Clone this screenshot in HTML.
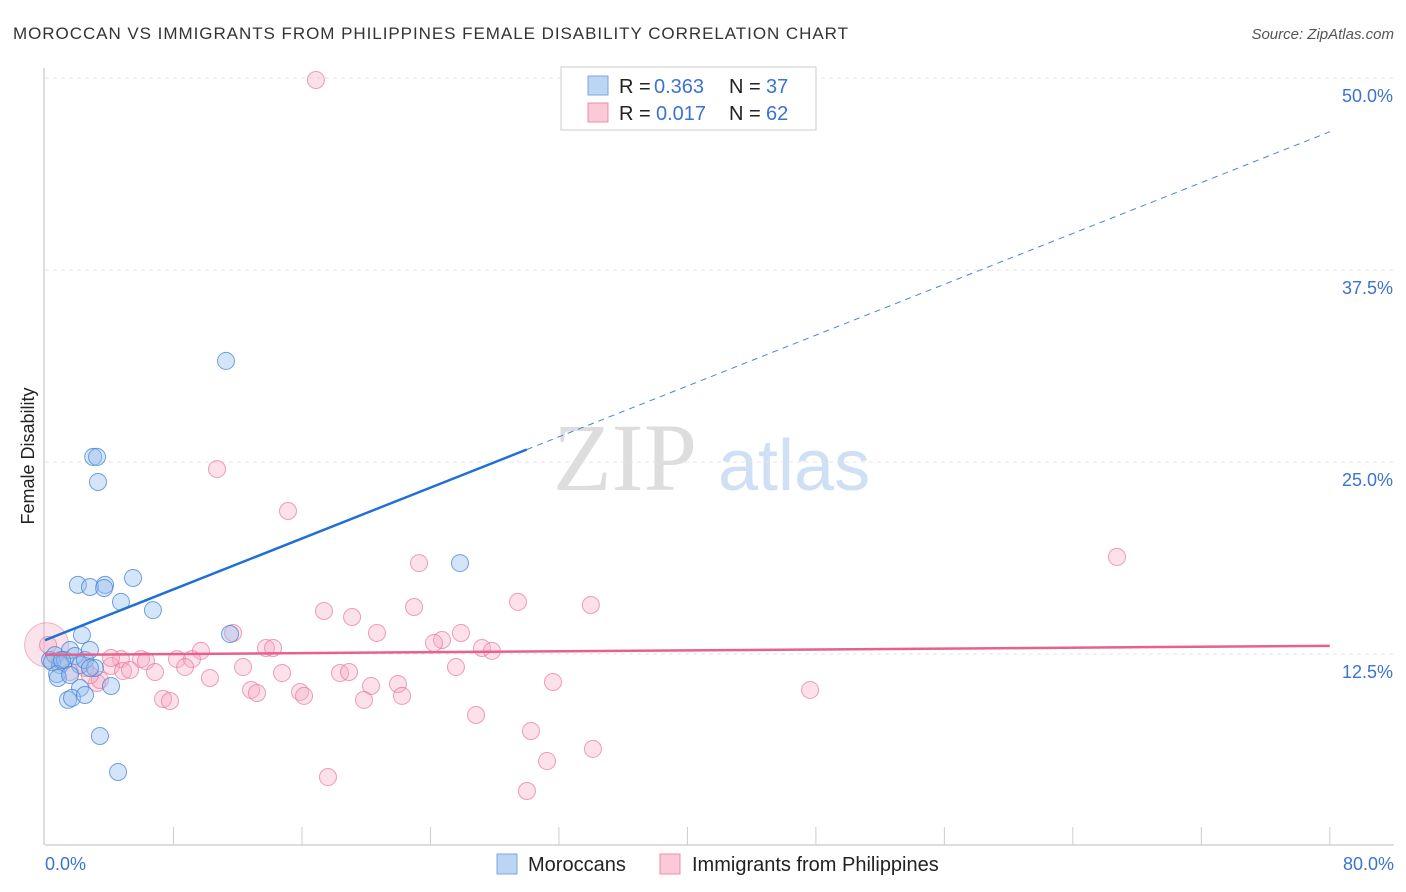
<!DOCTYPE html>
<html><head><meta charset="utf-8"><style>
body{margin:0;background:#fff;font-family:"Liberation Sans",sans-serif}
svg{display:block}
</style></head><body>
<svg id="c" width="1406" height="892" xmlns="http://www.w3.org/2000/svg">
<text x="13" y="39" font-size="17" textLength="835" fill="#333">MOROCCAN VS IMMIGRANTS FROM PHILIPPINES FEMALE DISABILITY CORRELATION CHART</text>
<text x="1394" y="39" font-size="15" fill="#555" font-style="italic" text-anchor="end">Source: ZipAtlas.com</text>
<text x="34" y="456" font-size="18" fill="#222" text-anchor="middle" transform="rotate(-90 34 456)">Female Disability</text>
<text x="553" y="490" font-size="96" fill="#ddd" font-family="Liberation Serif,serif">ZIP</text>
<text x="718" y="490" font-size="72" fill="#cfe0f4">atlas</text>
<g id="grid"></g><g id="pts"></g><g id="lines"></g>
<g>
<rect x="561" y="67" width="255" height="63" fill="#fff" stroke="#ccc"/>
<rect x="588" y="76" width="20" height="19" fill="#bcd5f5" stroke="#7aa6de"/>
<rect x="588" y="103" width="20" height="19" fill="#fcc9d8" stroke="#e88fac"/>
<text y="93" font-size="20" fill="#222"><tspan x="619">R =</tspan><tspan x="654" fill="#3b73d1">0.363</tspan><tspan x="729">N =</tspan><tspan x="766" fill="#3b73d1">37</tspan></text>
<text y="120" font-size="20" fill="#222"><tspan x="619">R =</tspan><tspan x="656" fill="#3b73d1">0.017</tspan><tspan x="729">N =</tspan><tspan x="766" fill="#3b73d1">62</tspan></text>
</g>
<g>
<rect x="497" y="854" width="20" height="20" fill="#bcd5f5" stroke="#7aa6de"/>
<text x="528" y="871" font-size="20" fill="#222">Moroccans</text>
<rect x="660" y="854" width="20" height="20" fill="#fcc9d8" stroke="#e88fac"/>
<text x="692" y="871" font-size="20" fill="#222">Immigrants from Philippines</text>
</g>
</svg>
<script>
const yTicks=[12.5,25,37.5,50];
const yTickLabels=["12.5%","25.0%","37.5%","50.0%"];
const xTickLabels=["0.0%","80.0%"];
const blueX=[0.31,0.62,0.93,0.44,0.75,1.25,1.56,1.87,2.18,2.49,2.8,3.11,1.06,0.81,2.3,2.05,2.8,3.74,3.68,5.48,4.73,6.72,2.18,1.43,1.68,2.49,4.11,3.0,3.24,3.3,11.27,11.52,25.84,3.42,4.55,2.8,1.56];
const blueY=[12.11,12.43,11.78,11.98,11.2,12.11,12.76,12.37,11.78,12.11,12.76,11.59,12.11,10.94,13.74,17.0,16.86,17.0,16.8,17.45,15.89,15.36,10.29,9.51,9.64,9.83,10.42,25.33,25.33,23.7,31.58,13.8,18.42,7.16,4.82,11.59,11.13];
const pinkX=[16.87,10.71,15.13,23.29,66.75,29.45,33.99,22.98,17.37,19.12,25.9,20.67,11.71,24.72,24.22,27.21,27.83,13.76,14.2,9.71,8.22,9.15,5.98,4.73,6.29,4.11,4.86,6.85,8.72,12.33,14.76,18.37,18.93,25.59,20.3,21.98,10.27,31.63,12.83,13.2,15.88,16.13,19.86,22.23,7.35,7.78,47.64,26.84,30.26,34.12,31.26,17.62,30.01,3.24,1.56,2.49,0.93,0.19,3.42,5.29,4.11,2.8];
const pinkY=[49.87,24.54,21.81,18.42,18.82,15.89,15.69,15.56,15.3,14.91,13.87,13.87,13.87,13.41,13.22,12.89,12.7,12.89,12.89,12.7,12.17,12.17,12.17,12.17,12.04,11.72,11.39,11.33,11.65,11.65,11.26,11.26,11.33,11.65,10.42,10.55,10.94,10.68,10.16,9.96,10.03,9.77,9.51,9.77,9.57,9.44,10.16,8.53,7.49,6.32,5.53,4.49,3.58,10.61,11.33,11.59,12.11,13.09,10.81,11.46,12.24,11.13];
const blueLine=[13.4,46.5];
const pinkLine=[12.44,13.03];
const X=v=>45+v*16.06, Y=v=>846-v*15.36;
const NS="http://www.w3.org/2000/svg";
function mk(p,t,a){const e=document.createElementNS(NS,t);for(const k in a)e.setAttribute(k,a[k]);p.appendChild(e);return e;}
const g=document.getElementById('grid');
yTicks.forEach((v,i)=>{
 const l=mk(g,'line',{x1:45,x2:1394,y1:Y(v),y2:Y(v),stroke:'#e4e4e4','stroke-dasharray':'4,4'});
 
 
 const t=mk(g,'text',{x:1393,y:Y(v)+24,'font-size':18,fill:'#3b73d1','text-anchor':'end'});t.textContent=yTickLabels[i];
 
 
});
const ax=mk(g,'line',{x1:45,x2:1394,y1:845,y2:845,stroke:'#bbb'});


const ay=mk(g,'line',{x1:44,x2:44,y1:68,y2:845,stroke:'#bbb'});


for(let i=1;i<=10;i++){const tk=mk(g,'line',{x1:X(i*8),x2:X(i*8),y1:827,y2:845,stroke:'#ccc'});
 
 }
[[0,'start',45],[1,'end',1394]].forEach(([i,a,x])=>{const t=mk(g,'text',{x:x,y:870,'font-size':18,fill:'#3b73d1','text-anchor':a});t.textContent=xTickLabels[i];
 
 });
const p=document.getElementById('pts');
const big=mk(p,'circle',{cx:X(0.1),cy:Y(13.1),r:22,fill:'rgba(246,160,185,0.3)',stroke:'rgba(230,120,155,0.5)'});


pinkX.forEach((x,i)=>{const c=mk(p,'circle',{cx:X(x),cy:Y(pinkY[i]),r:8.5,fill:'rgba(246,170,195,0.35)',stroke:'rgba(230,120,155,0.7)'});
 
 });
blueX.forEach((x,i)=>{const c=mk(p,'circle',{cx:X(x),cy:Y(blueY[i]),r:8.5,fill:'rgba(150,190,240,0.4)',stroke:'rgba(70,130,210,0.75)'});
 
 });
const L=document.getElementById('lines');
const by=x=>blueLine[0]+(blueLine[1]-blueLine[0])*x/80;
const b1=mk(L,'line',{x1:X(0),y1:Y(by(0)),x2:X(30),y2:Y(by(30)),stroke:'#1f6fd6','stroke-width':2.5});


const b2=mk(L,'line',{x1:X(30),y1:Y(by(30)),x2:X(80),y2:Y(by(80)),stroke:'#4a86d8','stroke-width':1,'stroke-dasharray':'6,5'});


const pl=mk(L,'line',{x1:X(0),y1:Y(pinkLine[0]),x2:X(80),y2:Y(pinkLine[1]),stroke:'#e8608c','stroke-width':2.5});


</script>
</body></html>
